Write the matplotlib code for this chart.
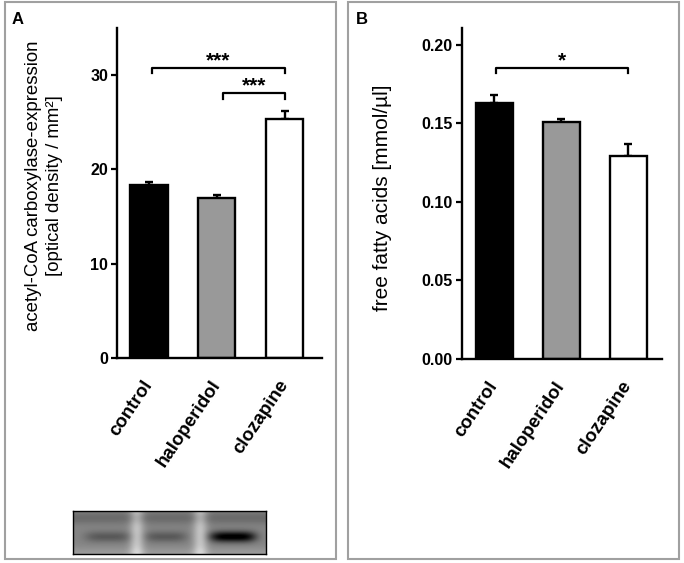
import numpy as np
import matplotlib
matplotlib.use('Agg')
import matplotlib.pyplot as plt
from matplotlib.patches import Rectangle

plt.rcParams['font.family'] = ['Liberation Sans', 'DejaVu Sans']

# ---- data ----
categories = ['control', 'haloperidol', 'clozapine']
acc_values = [18.3, 17.0, 25.4]
acc_errors = [0.4, 0.3, 0.8]
ffa_values = [0.163, 0.151, 0.129]
ffa_errors = [0.0053, 0.0017, 0.0081]
bar_colors = ['black', '#999999', 'white']
acc_yticks = [0, 10, 20, 30]
acc_yticklabels = ['0', '10', '20', '30']
ffa_yticks = [0.00, 0.05, 0.10, 0.15, 0.20]
ffa_yticklabels = ['0.00', '0.05', '0.10', '0.15', '0.20']
acc_sig_x1 = [0.04, 1.09]
acc_sig_x2 = [2.0, 2.0]
acc_sig_y = [30.8, 28.1]
acc_sig_text = ['***', '***']
ffa_sig_x1 = [0.02]
ffa_sig_x2 = [2.0]
ffa_sig_y = [0.1856]
ffa_sig_text = ['*']
blot_lane_centers = [0.18, 0.48, 0.83]
blot_lane_widths = [0.12, 0.11, 0.12]
blot_lane_darkness = [0.17, 0.17, 0.55]

W, H = 684, 563
fig = plt.figure(figsize=(W / 100, H / 100), dpi=100)


def fx(px):
    return px / W


def fy(py):
    return 1 - py / H


# panel frames
for x0, x1 in [(5, 336), (348, 679)]:
    fig.patches.append(Rectangle((fx(x0), fy(559)), fx(x1 - x0), (559 - 2) / H,
                                 transform=fig.transFigure, fill=False,
                                 edgecolor='#a0a0a0', linewidth=1.5))

fig.text(fx(18), fy(20), 'A', ha='center', va='center', fontsize=12, fontweight='bold')
fig.text(fx(362), fy(19), 'B', ha='center', va='center', fontsize=12, fontweight='bold')


def style_axes(ax, yticks, yticklabels, ylim, xlim):
    for s in ['top', 'right']:
        ax.spines[s].set_visible(False)
    for s in ['left', 'bottom']:
        ax.spines[s].set_linewidth(1.7)
    ax.set_ylim(*ylim)
    ax.set_xlim(*xlim)
    ax.set_yticks(yticks)
    ax.set_yticklabels(yticklabels, fontsize=11.5, fontweight='bold')
    ax.tick_params(axis='y', length=4.5, width=1.6, direction='out', pad=2)
    ax.tick_params(axis='x', length=0, pad=17)
    ax.set_xticks(range(len(categories)))
    ax.set_xticklabels(categories, rotation=56, ha='right', va='center',
                       rotation_mode='anchor', fontsize=13.5, fontweight='bold')


def draw_bars(ax, values, errors):
    x = np.arange(len(values))
    ax.bar(x, values, width=0.55, color=bar_colors, edgecolor='black',
           linewidth=1.7, zorder=2)
    ax.errorbar(x, values, yerr=[np.zeros(len(errors)), errors], fmt='none',
                ecolor='black', elinewidth=1.7, capsize=3, capthick=1.7, zorder=1)


def draw_sig(ax, x1s, x2s, ys, texts, drop, tpad):
    for x1, x2, y, t in zip(x1s, x2s, ys, texts):
        ax.plot([x1, x1, x2, x2], [y - drop, y, y, y - drop], color='black',
                lw=1.6, clip_on=False)
        ax.text((x1 + x2) / 2, y + tpad, t, ha='center', va='bottom',
                fontsize=15, fontweight='bold')


# ---- panel A ----
axA = fig.add_axes([fx(117), fy(358), fx(322 - 117), (358 - 28) / H])
draw_bars(axA, acc_values, acc_errors)
style_axes(axA, acc_yticks, acc_yticklabels, (0, 35), (-0.47, 2.55))
draw_sig(axA, acc_sig_x1, acc_sig_x2, acc_sig_y, acc_sig_text, 0.6, -0.3)
fig.text(fx(44), fy(186), 'acetyl-CoA carboxylase-expression\n[optical density / mm²]',
         rotation=90, ha='center', va='center', fontsize=13.4, linespacing=1.25,
         multialignment='center')

# ---- panel B ----
axB = fig.add_axes([fx(461.7), fy(359), fx(661.7 - 461.7), (359 - 28) / H])
draw_bars(axB, ffa_values, ffa_errors)
style_axes(axB, ffa_yticks, ffa_yticklabels, (0, 0.2108), (-0.49, 2.5))
draw_sig(axB, ffa_sig_x1, ffa_sig_x2, ffa_sig_y, ffa_sig_text, 0.0035, -0.002)
fig.text(fx(383), fy(198), 'free fatty acids [mmol/µl]', rotation=90,
         ha='center', va='center', fontsize=15)

# ---- western blot ----
axI = fig.add_axes([fx(73), fy(554), fx(266 - 73), (554 - 511) / H])
h, w = 43, 193
yy, xx = np.mgrid[0:h, 0:w]
u = xx / (w - 1)
v = yy / (h - 1)
img = np.full((h, w), 0.52)
# lighter gaps between lanes
for g in [0.33, 0.66]:
    img += 0.24 * np.exp(-((u - g) / 0.038) ** 2)
img -= 0.1 * np.exp(-((v - 0.15) / 0.15) ** 2)
img += 0.08 * np.exp(-((v - 1.0) / 0.15) ** 2)
for c, sw, d in zip(blot_lane_centers, blot_lane_widths, blot_lane_darkness):
    img -= d * np.exp(-((u - c) / sw) ** 4) * np.exp(-((v - 0.6) / 0.13) ** 2)
img = np.clip(img, 0, 1)
axI.imshow(img, cmap='gray', vmin=0, vmax=1, aspect='auto', interpolation='bilinear')
axI.set_xticks([])
axI.set_yticks([])
for s in axI.spines.values():
    s.set_linewidth(1.0)
    s.set_color('black')

fig.savefig('out.png', dpi=100)
